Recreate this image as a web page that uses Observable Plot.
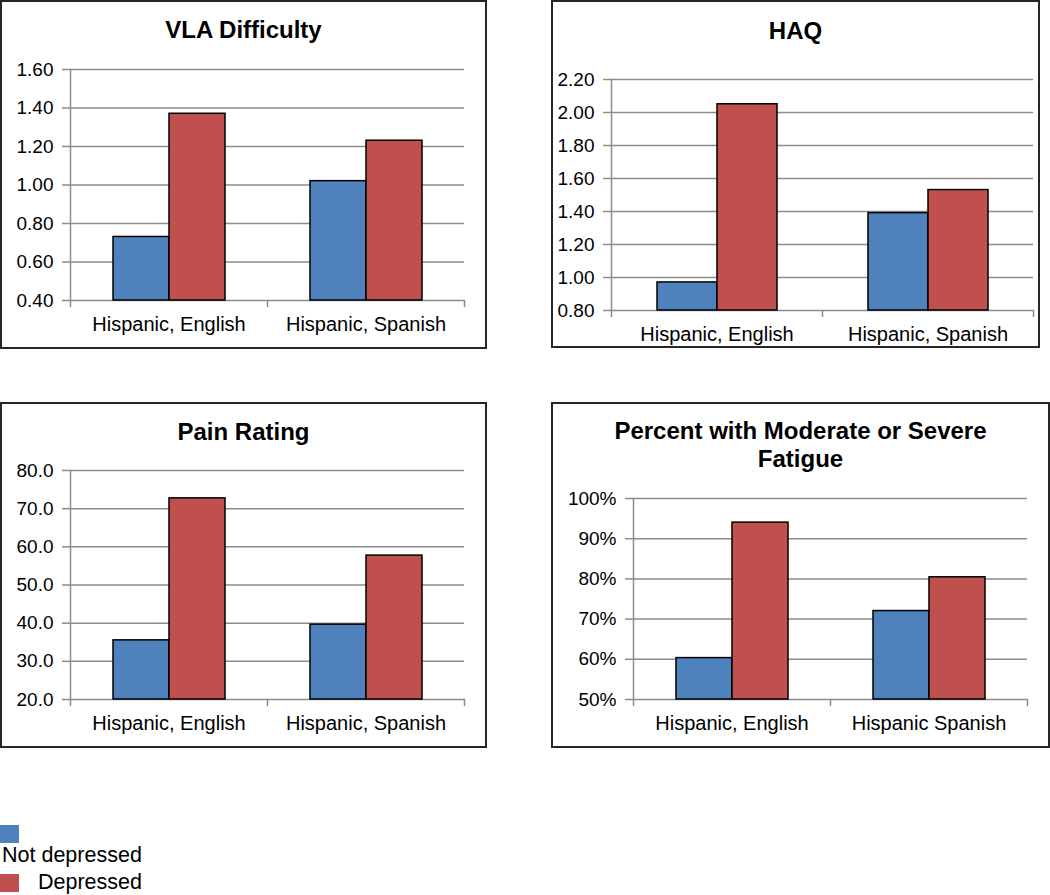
<!DOCTYPE html>
<html>
<head>
<meta charset="utf-8">
<script src="https://cdn.jsdelivr.net/npm/d3@7"></script>
<script src="https://cdn.jsdelivr.net/npm/@observablehq/plot@0.6"></script>
<style>
  html, body { margin: 0; padding: 0; background: #fff; }
  #root { position: relative; width: 1050px; height: 895px; background: #fff; font-family: "Liberation Sans", Arial, sans-serif; color: #000; overflow: hidden; }
  .box { position: absolute; box-sizing: border-box; border: 2px solid #262626; pointer-events: none; }
  .title { position: absolute; left: 0; right: 0; text-align: center; font-weight: bold; font-size: 24px; line-height: 28px; }
  .plot { position: absolute; }
  .sw { position: absolute; width: 19px; height: 18px; }
  .lg { position: absolute; font-size: 21.5px; line-height: 21px; white-space: nowrap; }
</style>
</head>
<body>
<div id="root"></div>
<script>
// ---- data ----
const series = ["Not depressed", "Depressed"];
const seriesColors = ["#4F81BD", "#C0504D"];

const vlaCategories = ["Hispanic, English", "Hispanic, Spanish"];
const vlaNotDepressed = [0.73, 1.02];
const vlaDepressed = [1.37, 1.23];
const vlaTicks = [0.4, 0.6, 0.8, 1.0, 1.2, 1.4, 1.6];

const haqCategories = ["Hispanic, English", "Hispanic, Spanish"];
const haqNotDepressed = [0.97, 1.39];
const haqDepressed = [2.05, 1.53];
const haqTicks = [0.8, 1.0, 1.2, 1.4, 1.6, 1.8, 2.0, 2.2];

const painCategories = ["Hispanic, English", "Hispanic, Spanish"];
const painNotDepressed = [35.5, 39.6];
const painDepressed = [72.7, 57.7];
const painTicks = [20, 30, 40, 50, 60, 70, 80];

const fatigueCategories = ["Hispanic, English", "Hispanic Spanish"];
const fatigueNotDepressed = [60.3, 72.0];
const fatigueDepressed = [94.0, 80.4];
const fatigueTicks = [50, 60, 70, 80, 90, 100];

const titles = ["VLA Difficulty", "HAQ", "Pain Rating", "Percent with Moderate or Severe<br>Fatigue"];

// ---- layout ----
const root = document.getElementById("root");
const grid = "#8c8c8c";
const tickLine = { draw(ctx, l) { ctx.moveTo(0, 0); ctx.lineTo(0, -l); } };

function makePanel(cfg) {
  const rows = [];
  cfg.cats.forEach((c, i) => {
    rows.push({ cat: c, series: series[0], value: cfg.notDep[i] });
    rows.push({ cat: c, series: series[1], value: cfg.dep[i] });
  });
  const y0 = cfg.ticks[0];
  const chart = Plot.plot({
    width: cfg.w, height: cfg.h,
    marginLeft: cfg.mL, marginRight: cfg.mR, marginTop: cfg.mT, marginBottom: cfg.mB,
    style: { fontFamily: "'Liberation Sans', Arial, sans-serif", fontSize: "19px", color: "#000", background: "transparent", overflow: "visible" },
    fx: { domain: cfg.cats, padding: 0 },
    x: { domain: series, paddingInner: 0, paddingOuter: 0.754, axis: null },
    y: { domain: [y0, cfg.ticks[cfg.ticks.length - 1]] },
    color: { domain: series, range: seriesColors },
    marks: [
      Plot.gridY({ ticks: cfg.ticks, stroke: grid, strokeOpacity: 1, strokeWidth: 1.5 }),
      Plot.frame({ anchor: "left", facetAnchor: "left", stroke: grid, strokeWidth: 1.5 }),
      Plot.axisY({ ticks: cfg.ticks, tickFormat: cfg.fmt, tickSize: 8, tickPadding: 9, stroke: grid, strokeWidth: 1.5, fill: "#000", fontSize: 19, label: null }),
      Plot.vector([0], { frameAnchor: "bottom-left", length: 6, rotate: 180, anchor: "start", shape: tickLine, stroke: grid, strokeWidth: 1.5 }),
      Plot.vector([cfg.cats[cfg.cats.length - 1]], { fx: d => d, frameAnchor: "bottom-right", length: 6, rotate: 180, anchor: "start", shape: tickLine, stroke: grid, strokeWidth: 1.5 }),
      Plot.barY(rows, { fx: "cat", x: "series", y1: y0, y2: "value", fill: "series", stroke: "#000", strokeWidth: 1.5 }),
      Plot.axisFx({ anchor: "bottom", tickSize: 0, tickPadding: 16, fontSize: 20, fill: "#000", label: null })
    ]
  });
  chart.classList.add("plot");
  chart.style.left = cfg.x + "px";
  chart.style.top = cfg.y + "px";
  root.appendChild(chart);

  const box = document.createElement("div");
  box.className = "box";
  Object.assign(box.style, { left: cfg.x + "px", top: cfg.y + "px", width: cfg.w + "px", height: cfg.h + "px" });
  const t = document.createElement("div");
  t.className = "title";
  t.style.top = cfg.titleTop + "px";
  t.innerHTML = cfg.title;
  box.appendChild(t);
  root.appendChild(box);
}

const f2 = d3.format(".2f"), f1 = d3.format(".1f"), fp = d => d + "%";

makePanel({ title: titles[0], cats: vlaCategories, notDep: vlaNotDepressed, dep: vlaDepressed, ticks: vlaTicks, fmt: f2,
  x: 0, y: 0, w: 487, h: 349, mL: 70, mR: 23, mT: 69, mB: 49, titleTop: 14 });
makePanel({ title: titles[1], cats: haqCategories, notDep: haqNotDepressed, dep: haqDepressed, ticks: haqTicks, fmt: f2,
  x: 551, y: 0, w: 489, h: 348, mL: 59, mR: 7, mT: 79, mB: 38, titleTop: 15 });
makePanel({ title: titles[2], cats: painCategories, notDep: painNotDepressed, dep: painDepressed, ticks: painTicks, fmt: f1,
  x: 0, y: 402, w: 487, h: 346, mL: 70, mR: 23, mT: 68, mB: 49, titleTop: 14 });
makePanel({ title: titles[3], cats: fatigueCategories, notDep: fatigueNotDepressed, dep: fatigueDepressed, ticks: fatigueTicks, fmt: fp,
  x: 551, y: 402, w: 499, h: 346, mL: 81, mR: 23, mT: 96, mB: 49, titleTop: 13 });

// ---- legend ----
const legendPos = [
  { sw: [0, 825], tx: [2, 845] },
  { sw: [0, 874], tx: [38, 872] }
];
series.forEach((s, i) => {
  const sw = document.createElement("div");
  sw.className = "sw";
  Object.assign(sw.style, { left: legendPos[i].sw[0] + "px", top: legendPos[i].sw[1] + "px", background: seriesColors[i] });
  root.appendChild(sw);
  const tx = document.createElement("div");
  tx.className = "lg";
  Object.assign(tx.style, { left: legendPos[i].tx[0] + "px", top: legendPos[i].tx[1] + "px" });
  tx.textContent = s;
  root.appendChild(tx);
});
</script>
</body>
</html>
